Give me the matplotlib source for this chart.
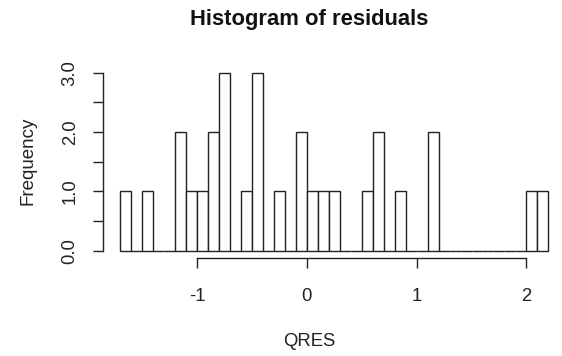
import numpy as np
import matplotlib
matplotlib.use("Agg")
import matplotlib.pyplot as plt

# histogram data (bin width 0.1, first bin starts at -1.7)
bin_start = -1.7
bin_width = 0.1
counts = [1, 0, 1, 0, 0, 2, 1, 1, 2, 3,
          0, 1, 3, 0, 1, 0, 2, 1, 1, 1,
          0, 0, 1, 2, 0, 1, 0, 0, 2, 0,
          0, 0, 0, 0, 0, 0, 0, 1, 1]
x_ticks = [-1, 0, 1, 2]
x_ticklabels = ["-1", "0", "1", "2"]
y_ticks = [0, 0.5, 1, 1.5, 2, 2.5, 3]
y_ticklabels = ["0.0", "", "1.0", "", "2.0", "", "3.0"]

plt.rcParams['font.family'] = ['Liberation Sans', 'DejaVu Sans']

W, H = 562, 356
fig = plt.figure(figsize=(W / 100, H / 100), dpi=100)
ax = fig.add_axes([103 / W, 1 - 257.8 / H, 462.5 / W, 192.2 / H])

lefts = bin_start + bin_width * np.arange(len(counts))
ax.bar(lefts, counts, width=bin_width, align='edge', color='white',
       edgecolor='#222222', linewidth=1.0)

nb = len(counts)
lo, hi = bin_start, bin_start + bin_width * nb
pad = 0.04 * (hi - lo)
ax.set_xlim(lo - pad, hi + pad)
ax.set_ylim(-0.12, 3.12)

for s in ['top', 'right']:
    ax.spines[s].set_visible(False)
ax.spines['left'].set_bounds(0, 3)
ax.spines['bottom'].set_bounds(-1, 2)
for s in ['left', 'bottom']:
    ax.spines[s].set_linewidth(1.0)
    ax.spines[s].set_color('#222222')

ax.set_xticks(x_ticks)
ax.set_xticklabels(x_ticklabels)
ax.set_yticks(y_ticks)
ax.set_yticklabels(y_ticklabels, rotation=90, va='center')
ax.tick_params(axis='both', length=7.5, width=1.0, color='#222222',
               labelsize=13.3, labelcolor='#222222')
ax.tick_params(axis='x', pad=14)
ax.tick_params(axis='y', pad=10)

fig.text(309 / W, 1 - 20 / H, "Histogram of residuals", ha='center', va='center',
         fontsize=15.8, fontweight='bold', color='#111111')
fig.text(309 / W, 1 - 341 / H, "QRES", ha='center', va='center',
         fontsize=13.3, color='#222222')
fig.text(28 / W, 1 - 161 / H, "Frequency", ha='center', va='center',
         rotation=90, fontsize=13.5, color='#222222')

fig.savefig("out.png", dpi=100)
